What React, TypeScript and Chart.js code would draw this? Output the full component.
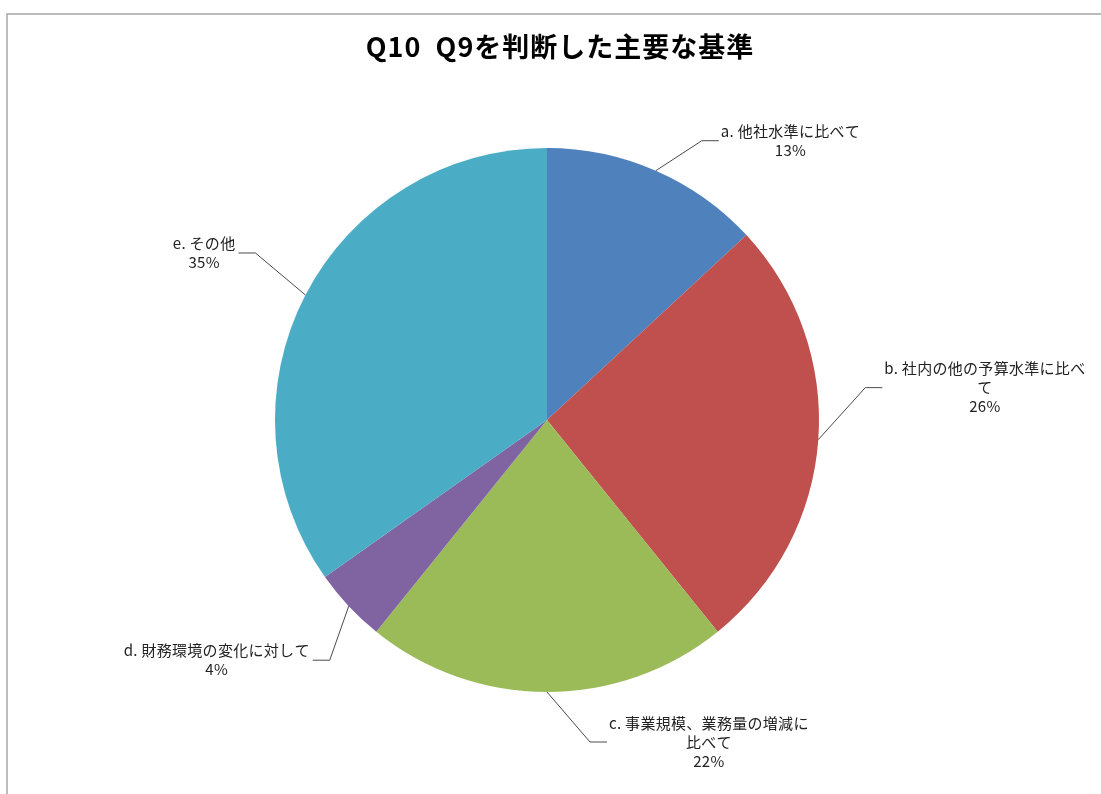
import { useEffect, useRef } from "react";
import { Chart, registerables } from "chart.js";

Chart.register(...registerables);

const titleText = "Q10  Q9を判断した主要な基準";
const categories = [
  "a. 他社水準に比べて",
  "b. 社内の他の予算水準に比べて",
  "c. 事業規模、業務量の増減に比べて",
  "d. 財務環境の変化に対して",
  "e. その他",
];
const labelLines = [
  ["a. 他社水準に比べて"],
  ["b. 社内の他の予算水準に比べ", "て"],
  ["c. 事業規模、業務量の増減に", "比べて"],
  ["d. 財務環境の変化に対して"],
  ["e. その他"],
];
const values = [13.1, 26.1, 21.6, 4.4, 34.8];
const colors = ["#4F81BD", "#C0504D", "#9BBB59", "#8064A2", "#4BACC6"];
// elbow offsets of leader lines relative to the slice's outer mid-point (styling)
const leaderOffsets = [
  [46, -30],
  [47, -52],
  [43, 50],
  [-19, 54],
  [-50, -42],
];

const LABEL_FONT = '15px "Noto Sans CJK JP", sans-serif';
const TITLE_FONT = 'bold 27px "Noto Sans CJK JP", sans-serif';

const framePlugin = {
  id: "frame",
  beforeDraw(chart: any) {
    const ctx = chart.ctx;
    ctx.save();
    ctx.fillStyle = "#ffffff";
    ctx.fillRect(0, 0, chart.width, chart.height);
    ctx.strokeStyle = "#a6a6a6";
    ctx.lineWidth = 1.5;
    ctx.beginPath();
    ctx.moveTo(7, chart.height);
    ctx.lineTo(7, 14);
    ctx.lineTo(chart.width, 14);
    ctx.stroke();
    ctx.restore();
  },
};

const titlePlugin = {
  id: "customTitle",
  afterDraw(chart: any) {
    const ctx = chart.ctx;
    ctx.save();
    ctx.font = TITLE_FONT;
    (ctx as any).letterSpacing = "1px";
    ctx.fillStyle = "#000000";
    ctx.textAlign = "center";
    ctx.textBaseline = "middle";
    ctx.fillText(titleText, 560, 47);
    ctx.restore();
  },
};

const labelPlugin = {
  id: "pieLabels",
  afterDatasetsDraw(chart: any) {
    const ctx = chart.ctx;
    const meta = chart.getDatasetMeta(0);
    const data = chart.data.datasets[0].data as number[];
    const total = data.reduce((s, v) => s + v, 0);
    ctx.save();
    ctx.font = LABEL_FONT;
    (ctx as any).letterSpacing = "0.3px";
    meta.data.forEach((arc: any, i: number) => {
      const p = arc.getProps(["x", "y", "startAngle", "endAngle", "outerRadius"], true);
      const mid = (p.startAngle + p.endAngle) / 2;
      const ax = p.x + Math.cos(mid) * p.outerRadius;
      const ay = p.y + Math.sin(mid) * p.outerRadius;
      const ex = ax + leaderOffsets[i][0];
      const ey = ay + leaderOffsets[i][1];
      const right = leaderOffsets[i][0] >= 0;
      const hx = right ? ex + 17 : ex - 17;
      ctx.strokeStyle = "#4a4a4a";
      ctx.lineWidth = 1;
      ctx.beginPath();
      ctx.moveTo(ax, ay);
      ctx.lineTo(ex, ey);
      ctx.lineTo(hx, ey);
      ctx.stroke();

      const lines = [...labelLines[i], Math.round((data[i] / total) * 100) + "%"];
      const w = Math.max(...lines.map((l) => ctx.measureText(l).width));
      const cx = right ? hx + 2 + w / 2 : hx - 3 - w / 2;
      const lh = 19;
      const y0 = ey - ((lines.length - 1) * lh) / 2;
      ctx.fillStyle = "#222222";
      ctx.textAlign = "center";
      ctx.textBaseline = "middle";
      lines.forEach((l, k) => ctx.fillText(l, cx, y0 + k * lh));
    });
    ctx.restore();
  },
};

export default function App() {
  const ref = useRef<HTMLCanvasElement>(null);
  useEffect(() => {
    document.body.style.margin = "0";
    const chart = new Chart(ref.current as HTMLCanvasElement, {
      type: "pie",
      data: {
        labels: categories,
        datasets: [
          {
            data: values,
            backgroundColor: colors,
            borderWidth: 0,
          },
        ],
      },
      options: {
        responsive: false,
        animation: false,
        devicePixelRatio: 1,
        layout: { padding: { top: 148, bottom: 102, left: 275, right: 282 } },
        plugins: {
          legend: { display: false },
          tooltip: { enabled: false },
          title: { display: false },
        },
      },
      plugins: [framePlugin, labelPlugin, titlePlugin],
    } as any);
    return () => chart.destroy();
  }, []);
  return (
    <div style={{ width: 1101, height: 794 }}>
      <canvas ref={ref} width={1101} height={794} style={{ display: "block", width: 1101, height: 794 }} />
    </div>
  );
}
